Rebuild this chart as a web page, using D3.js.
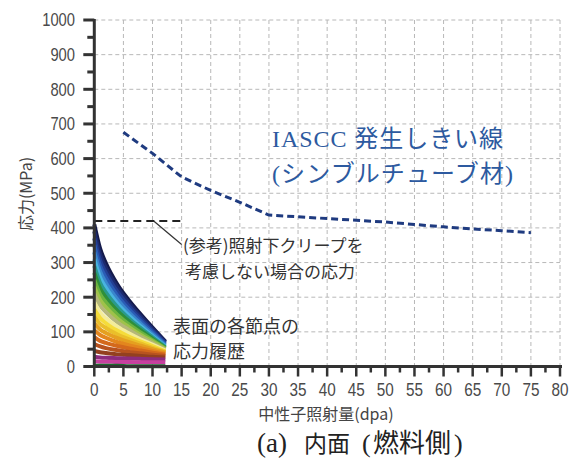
<!DOCTYPE html>
<html>
<head>
<meta charset="utf-8">
<script src="https://cdn.jsdelivr.net/npm/d3@7"></script>
<style>
  body { margin: 0; background: #fff; }
  svg { display: block; }
</style>
</head>
<body>
<div id="chart"></div>
<script>
// x positions (dpa) where the stress histories were read
const histX = [0, 1, 2, 4, 6, 8, 10, 12.2];

// stress histories of each surface node (MPa), top curve first
const histories = [
  [410, 340, 298, 236, 190, 150, 112, 72],
  [390, 323, 284, 227, 182, 144, 108, 70],
  [370, 306, 270, 215, 173, 137, 103, 67],
  [350, 290, 256, 204, 164, 130, 98, 64],
  [330, 274, 241, 193, 155, 123, 93, 61],
  [310, 257, 227, 181, 146, 116, 88, 58],
  [290, 241, 213, 171, 138, 110, 84, 56],
  [270, 225, 199, 160, 130, 104, 80, 54],
  [250, 208, 185, 149, 121, 98, 76, 52],
  [230, 192, 171, 138, 113, 91, 72, 50],
  [210, 176, 157, 127, 105, 85, 67, 48],
  [185, 156, 139, 114, 95, 78, 63, 46],
  [165, 140, 125, 103, 86, 72, 59, 44],
  [145, 123, 111, 92, 78, 66, 54, 42],
  [125, 107, 97, 82, 70, 60, 50, 40],
  [105, 91, 83, 70, 61, 53, 45, 37],
  [85, 74, 68, 59, 52, 46, 40, 34],
  [65, 58, 53, 47, 42, 38, 34, 30],
  [45, 41, 39, 35, 33, 30, 28, 26],
  [28, 26, 25, 24, 23, 22, 21, 20],
  [15, 14, 14, 13, 13, 12, 12, 12],
  [2, 2, 2, 2, 1, 1, 1, 1]
];

const histColors = [
  "#141a4a", "#1c2a6e", "#233f93", "#2a5cb5", "#3a86cc", "#49b4e0",
  "#2a9a8c", "#2f8f3a", "#6cb33f", "#9fc24a", "#b5b77a", "#f3ec9a",
  "#f5dc3a", "#eabf2a", "#e5a020", "#e3861e", "#d4691c", "#b8531f",
  "#93401f", "#8d2c7e", "#c6409f", "#1b6b2e"
];

// IASCC threshold line (thimble tube material)
const iasccX = [5, 10, 15, 20, 25, 30, 35, 40, 45, 50, 55, 60, 65, 70, 75];
const iasccY = [676, 615, 547, 508, 474, 437, 432, 427, 422, 417, 410, 403, 397, 392, 386];

// stress without irradiation creep (reference)
const refX = [0, 15.5];
const refY = [420, 420];

const xTicks = d3.range(0, 81, 5);
const yTicks = d3.range(0, 1001, 100);

function main() {
    const width = 573, height = 464;
    const plot = {left: 94.3, right: 560, top: 20, bottom: 366.5};
    const tickFont = "'Liberation Sans', Arial, sans-serif";

    const svg = d3.select("#chart")
        .append("svg")
        .attr("width", width)
        .attr("height", height);

    const x = d3.scaleLinear().domain([0, 80]).range([plot.left, plot.right]);
    const y = d3.scaleLinear().domain([0, 1000]).range([plot.bottom, plot.top]);

    // dashed grid
    const grid = svg.append("g")
        .attr("stroke", "#b8b8b8")
        .attr("stroke-width", 1)
        .attr("stroke-dasharray", "4,3");
    grid.selectAll(".gx")
        .data(xTicks.slice(1))
        .enter().append("line")
        .attr("x1", d => x(d)).attr("x2", d => x(d))
        .attr("y1", plot.top).attr("y2", plot.bottom);
    grid.selectAll(".gy")
        .data(yTicks.slice(1))
        .enter().append("line")
        .attr("x1", plot.left).attr("x2", plot.right)
        .attr("y1", d => y(d)).attr("y2", d => y(d));

    // stress histories
    const histLine = d3.line()
        .x((d, i) => x(histX[i]))
        .y(d => y(d))
        .curve(d3.curveMonotoneX);
    svg.append("g")
        .selectAll("path")
        .data(histories)
        .enter()
        .append("path")
        .attr("d", histLine)
        .attr("fill", "none")
        .attr("stroke", (d, i) => histColors[i])
        .attr("stroke-width", 4);

    // reference line (no creep)
    const refLine = d3.line().x((d, i) => x(refX[i])).y(d => y(d));
    svg.append("path")
        .attr("d", refLine(refY))
        .attr("fill", "none")
        .attr("stroke", "#222")
        .attr("stroke-width", 2)
        .attr("stroke-dasharray", "8,5");

    // leader to the note
    svg.append("line")
        .attr("x1", x(10.2)).attr("y1", y(420))
        .attr("x2", x(15)).attr("y2", y(352))
        .attr("stroke", "#333")
        .attr("stroke-width", 1.2);

    // IASCC threshold
    const iasccLine = d3.line().x((d, i) => x(iasccX[i])).y(d => y(d));
    svg.append("path")
        .attr("d", iasccLine(iasccY))
        .attr("fill", "none")
        .attr("stroke", "#1f3b80")
        .attr("stroke-width", 3)
        .attr("stroke-dasharray", "7,4");

    // axes
    const axisColor = "#333";

    const ya = svg.append("g");
    ya.selectAll("line")
        .data(d3.range(0, 1001, 50))
        .enter().append("line")
        .attr("x1", d => d % 100 === 0 ? plot.left - 11 : plot.left - 7)
        .attr("x2", plot.left)
        .attr("y1", d => y(d)).attr("y2", d => y(d))
        .attr("stroke", axisColor)
        .attr("stroke-width", 3);
    ya.append("line")
        .attr("x1", plot.left).attr("x2", plot.left)
        .attr("y1", plot.top - 1).attr("y2", plot.bottom + 1)
        .attr("stroke", axisColor).attr("stroke-width", 3);
    // condensed digits, like the original
    ya.selectAll("text")
        .data(yTicks)
        .enter().append("text")
        .attr("transform", d => `translate(75,${y(d)}) scale(0.82,1)`)
        .attr("dy", "0.36em")
        .attr("text-anchor", "end")
        .attr("font-family", tickFont)
        .attr("font-size", "18px")
        .attr("fill", "#4a4a4a")
        .text(d => d);

    const xa = svg.append("g");
    xa.selectAll("line")
        .data(d3.range(0, 80.1, 2.5))
        .enter().append("line")
        .attr("x1", d => x(d)).attr("x2", d => x(d))
        .attr("y1", plot.bottom)
        .attr("y2", d => d % 5 === 0 ? plot.bottom + 10 : plot.bottom + 6)
        .attr("stroke", axisColor)
        .attr("stroke-width", 2.5);
    xa.append("line")
        .attr("x1", plot.left - 1).attr("x2", plot.right + 2)
        .attr("y1", plot.bottom).attr("y2", plot.bottom)
        .attr("stroke", axisColor).attr("stroke-width", 3);
    xa.selectAll("text")
        .data(xTicks)
        .enter().append("text")
        .attr("transform", d => `translate(${x(d)},396) scale(0.85,1)`)
        .attr("text-anchor", "middle")
        .attr("font-family", tickFont)
        .attr("font-size", "18px")
        .attr("fill", "#4a4a4a")
        .text(d => d);

    // axis titles
    svg.append("text")
        .attr("x", 326).attr("y", 420)
        .attr("text-anchor", "middle")
        .attr("font-family", "'Noto Sans CJK JP', sans-serif")
        .attr("font-size", "16px")
        .attr("fill", "#444")
        .text("中性子照射量(dpa)");

    svg.append("text")
        .attr("transform", "translate(32,194) rotate(-90)")
        .attr("text-anchor", "middle")
        .attr("font-family", "'Noto Sans CJK JP', sans-serif")
        .attr("font-size", "16px")
        .attr("fill", "#444")
        .text("応力(MPa)");

    // annotations
    const note = svg.append("g")
        .attr("font-family", "'Noto Sans CJK JP', sans-serif")
        .attr("fill", "#333");
    note.append("text").attr("x", 183).attr("y", 252).attr("font-size", "17px")
        .text("(参考)照射下クリープを");
    note.append("text").attr("x", 185).attr("y", 278).attr("font-size", "17px")
        .text("考慮しない場合の応力");
    note.append("text").attr("x", 173).attr("y", 333).attr("font-size", "18px")
        .text("表面の各節点の");
    note.append("text").attr("x", 173).attr("y", 358).attr("font-size", "18px")
        .text("応力履歴");

    const blue = svg.append("g")
        .attr("font-family", "'Liberation Serif', 'Noto Sans CJK JP', serif")
        .attr("fill", "#2d5aa0")
        .attr("font-size", "24px");
    blue.append("text").attr("x", 272).attr("y", 147)
        .attr("textLength", 231).attr("lengthAdjust", "spacing")
        .text("IASCC 発生しきい線");
    blue.append("text").attr("x", 272).attr("y", 182)
        .attr("textLength", 241).attr("lengthAdjust", "spacing")
        .text("(シンブルチューブ材)");

    // caption
    const cap = svg.append("text")
        .attr("y", 452)
        .attr("font-family", "'Liberation Serif', 'Noto Sans CJK JP', serif")
        .attr("fill", "#222");
    cap.append("tspan").attr("x", 257).attr("font-size", "27px").text("(a)");
    cap.append("tspan").attr("x", 304).attr("font-size", "23px").text("内面");
    cap.append("tspan").attr("x", 362).attr("font-size", "26px").text("(");
    cap.append("tspan").attr("x", 373).attr("font-size", "26px").text("燃料側");
    cap.append("tspan").attr("x", 454).attr("font-size", "26px").text(")");
}

main()
</script>
</body>
</html>
